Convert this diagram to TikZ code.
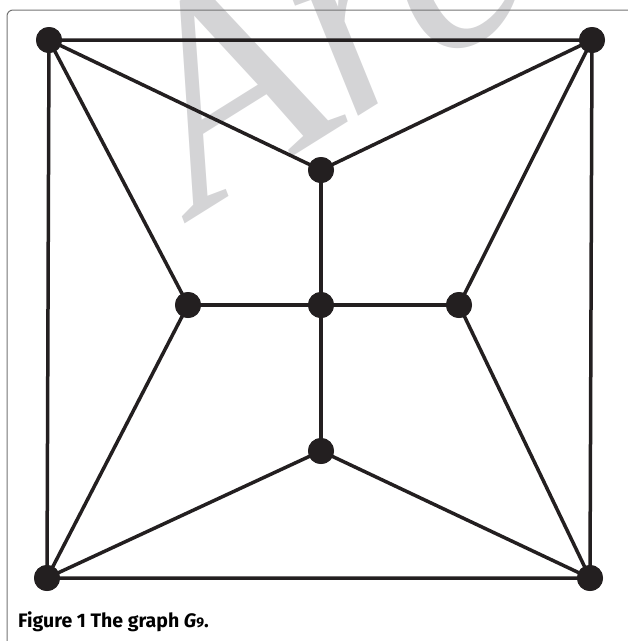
\documentclass[tikz,border=0pt]{standalone}
\usepackage{fontspec}
\setmainfont{Liberation Serif}
\newfontfamily\capfont{Fira Sans}
\definecolor{ink}{RGB}{35,31,32}
\definecolor{wm}{RGB}{212,212,214}
\begin{document}
\begin{tikzpicture}[x=1pt,y=-1pt,
  vtx/.style={circle,fill=ink,minimum size=26pt,inner sep=0pt},
  edge/.style={line width=3.5pt,draw=ink},
  frame/.style={draw=black!55,line width=1pt,rounded corners=6pt}]
\useasboundingbox (0,0) rectangle (628,641);
\begin{scope}
\clip (0,0) rectangle (628,641);
\node[rotate=32,anchor=base west,text=wm,inner sep=0pt,
      font=\fontsize{290}{290}\selectfont\itshape] (wmk) at (198,216) {Archive};
\draw[frame] (7,10) rectangle (670,690);
\end{scope}
\node[vtx] (tl) at (49,40) {};
\node[vtx] (tr) at (592,40) {};
\node[vtx] (bl) at (47,578) {};
\node[vtx] (br) at (590,578) {};
\node[vtx] (t) at (321,170) {};
\node[vtx] (l) at (188,305) {};
\node[vtx] (c) at (321,305) {};
\node[vtx] (r) at (459,305) {};
\node[vtx] (b) at (321,451) {};
\draw[edge] (tl.center) -- (tr.center) -- (br.center) -- (bl.center) -- cycle;
\draw[edge] (tl.center) -- (t.center) -- (tr.center);
\draw[edge] (tl.center) -- (l.center) -- (bl.center);
\draw[edge] (tr.center) -- (r.center) -- (br.center);
\draw[edge] (bl.center) -- (b.center) -- (br.center);
\draw[edge] (l.center) -- (c.center) -- (r.center);
\draw[edge] (t.center) -- (c.center) -- (b.center);
\foreach \n in {tl,tr,bl,br,t,l,c,r,b}{\fill[ink] (\n) circle (13pt);}
\node[anchor=base west,inner sep=0pt,font=\capfont\bfseries\fontsize{19.5}{22}\selectfont] (cap) at (18,627)
  {Figure 1 The graph \textit{G}{\fontsize{14}{14}\selectfont 9}.};
\end{tikzpicture}
\end{document}
